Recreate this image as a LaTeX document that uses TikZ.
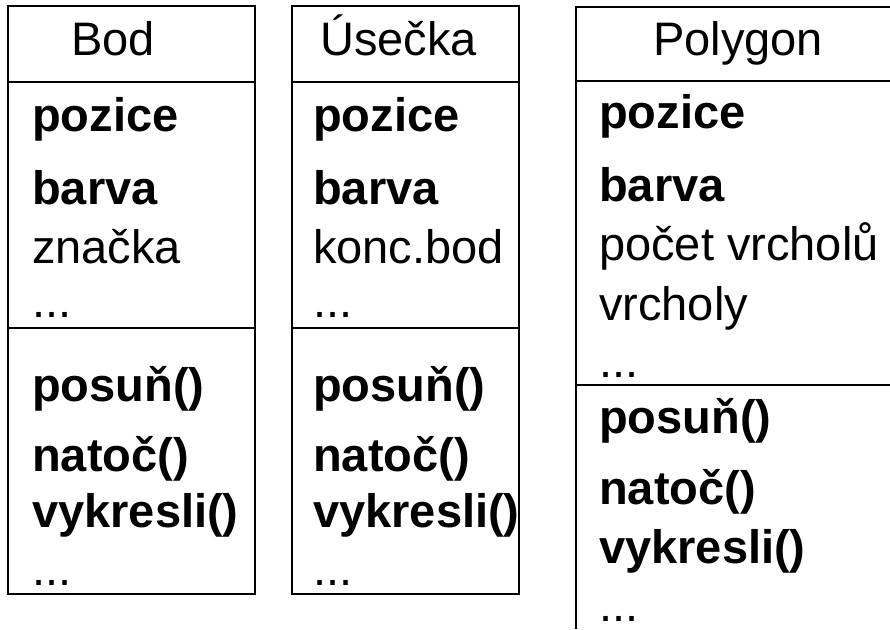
\documentclass[tikz,border=0pt]{standalone}
\usepackage{fontspec}
\setmainfont{Liberation Sans}
\begin{document}
\begin{tikzpicture}[x=1pt,y=-1pt,
  txt/.style={anchor=base west, inner sep=0pt, font=\fontsize{47}{47}\selectfont},
  btxt/.style={txt, font=\fontsize{47}{47}\selectfont\bfseries},
  frame/.style={draw=black, line width=1.6pt}]
\useasboundingbox (0,0) rectangle (890,629);
% box 1
\draw[frame] (8,6) rectangle (255,594);
\draw[frame] (8,82) -- (255,82);
\draw[frame] (8,328) -- (255,328);
% box 2
\draw[frame] (292,6) rectangle (519,594);
\draw[frame] (292,82) -- (519,82);
\draw[frame] (292,328) -- (519,328);
% box 3 (cut off at right and bottom)
\draw[frame] (890,7) -- (576,7) -- (576,629);
\draw[frame] (576,81) -- (890,81);
\draw[frame] (576,385) -- (890,385);
% texts box 1
\node[txt]  (t1)  at (71,55)  {Bod};
\node[btxt] (a11) at (32,131) {pozice};
\node[btxt] (a12) at (32,204) {barva};
\node[txt]  (a13) at (32,263) {značka};
\node[txt]  (a14) at (32,317) {...};
\node[btxt] (m11) at (32,401) {posuň()};
\node[btxt] (m12) at (32,471) {natoč()};
\node[btxt] (m13) at (32,527) {vykresli()};
\node[txt]  (m14) at (32,585) {...};
% texts box 2
\node[txt]  (t2)  at (320,55)  {Úsečka};
\node[btxt] (a21) at (313,131) {pozice};
\node[btxt] (a22) at (313,204) {barva};
\node[txt]  (a23) at (313,263) {konc.bod};
\node[txt]  (a24) at (313,317) {...};
\node[btxt] (m21) at (313,401) {posuň()};
\node[btxt] (m22) at (313,471) {natoč()};
\node[btxt] (m23) at (313,527) {vykresli()};
\node[txt]  (m24) at (313,585) {...};
% texts box 3
\node[txt]  (t3)  at (653,55)  {Polygon};
\node[btxt] (a31) at (599,128) {pozice};
\node[btxt] (a32) at (599,201) {barva};
\node[txt]  (a33) at (599,260) {počet vrcholů};
\node[txt]  (a34) at (599,320) {vrcholy};
\node[txt]  (a35) at (599,377) {...};
\node[btxt] (m31) at (599,433) {posuň()};
\node[btxt] (m32) at (599,504) {natoč()};
\node[btxt] (m33) at (599,563) {vykresli()};
\node[txt]  (m34) at (599,621) {...};
\end{tikzpicture}
\end{document}
